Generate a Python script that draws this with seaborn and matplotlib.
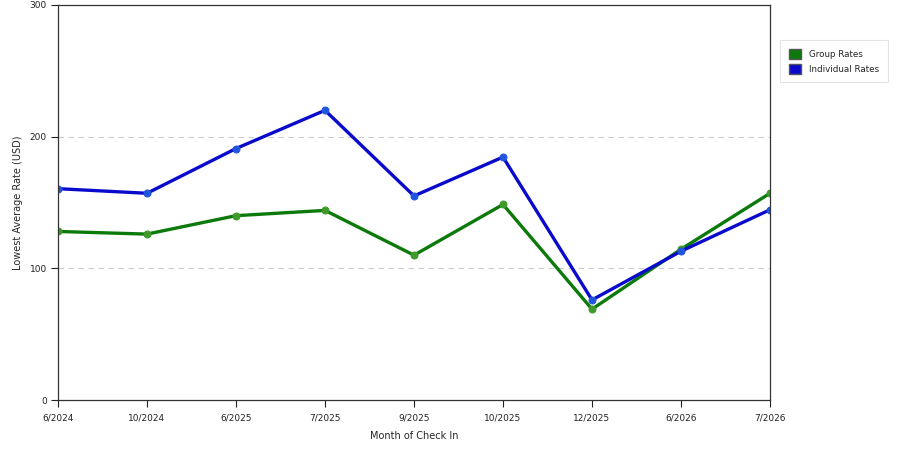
import pandas as pd
import matplotlib
matplotlib.use("Agg")
import matplotlib.pyplot as plt
import matplotlib.patches as mpatches
import seaborn as sns

months = ['6/2024', '10/2024', '6/2025', '7/2025', '9/2025',
          '10/2025', '12/2025', '6/2026', '7/2026']
group_rates = [128, 126, 140, 144, 110, 148.5, 69, 114.5, 157]
individual_rates = [160.5, 157, 191, 220, 155, 184.5, 76, 113, 144.5]

df = pd.DataFrame({
    'month': months * 2,
    'pos': list(range(len(months))) * 2,
    'rate': group_rates + individual_rates,
    'series': ['Group Rates'] * len(months) + ['Individual Rates'] * len(months),
})

sns.set_style('white')
plt.rcParams['font.family'] = ['DejaVu Sans']

colors = {'Group Rates': '#0b7a0b', 'Individual Rates': '#0a0acc'}
marker_colors = {'Group Rates': '#3f9a2a', 'Individual Rates': '#2255dd'}

fig = plt.figure(figsize=(9, 4.5), dpi=100)
ax = fig.add_axes([58 / 900, 50 / 450, 712 / 900, 395 / 450])

for name in ['Group Rates', 'Individual Rates']:
    sub = df[df['series'] == name]
    sns.lineplot(data=sub, x='pos', y='rate', ax=ax, color=colors[name],
                 linewidth=2.4, marker='o', markersize=5,
                 markerfacecolor=marker_colors[name],
                 markeredgecolor=marker_colors[name], legend=False)

ax.set_xlim(0, len(months) - 1)
ax.set_ylim(0, 300)
ax.set_xticks(range(len(months)))
ax.set_xticklabels(months)
ax.set_yticks([0, 100, 200, 300])
ax.tick_params(axis='both', direction='out', length=5, width=0.8,
               labelsize=6.5, colors='#222222', pad=3,
               bottom=True, left=True)
ax.tick_params(axis='x', pad=5)
for y in [100, 200]:
    ax.axhline(y, color='#cccccc', linestyle=(0, (5, 4)), linewidth=0.8, zorder=0)
for s in ax.spines.values():
    s.set_color('#333333')
    s.set_linewidth(0.9)

ax.set_xlabel('Month of Check In', fontsize=7, labelpad=6)
ax.set_ylabel('Lowest Average Rate (USD)', fontsize=7, labelpad=5)

handles = [mpatches.Patch(facecolor=colors[n], edgecolor='#555555', label=n)
           for n in ['Group Rates', 'Individual Rates']]
leg = fig.legend(handles=handles, loc='upper left',
                 bbox_to_anchor=(776 / 900, 1 - 36 / 450),
                 fontsize=6.3, frameon=True, fancybox=False,
                 handlelength=1.4, handleheight=1.4, borderpad=1.0,
                 labelspacing=0.5, handletextpad=0.9)
leg.get_frame().set_edgecolor('#dddddd')
leg.get_frame().set_linewidth(0.8)

fig.savefig('out.png', dpi=100)
